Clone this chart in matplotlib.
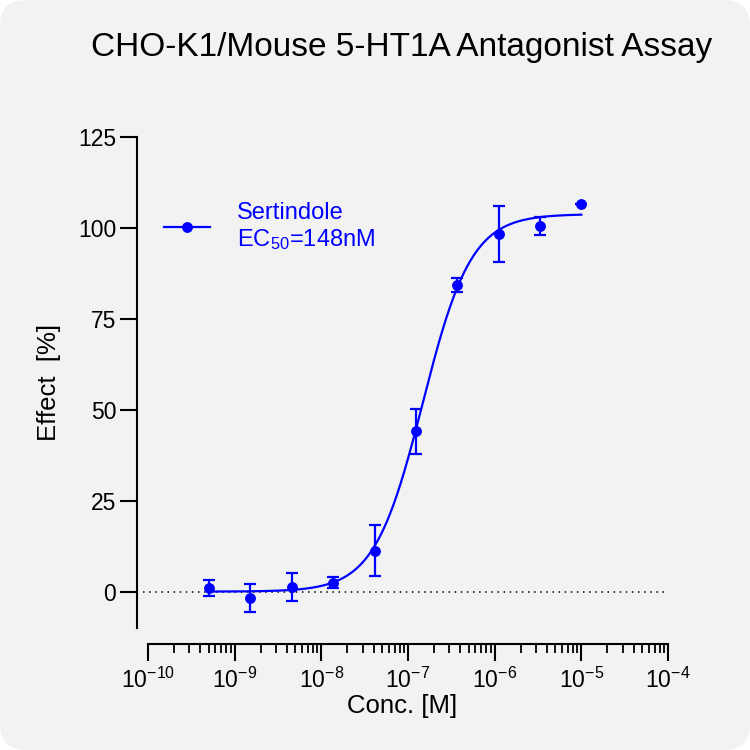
import numpy as np
import matplotlib
matplotlib.use("Agg")
import matplotlib.pyplot as plt
from matplotlib.patches import FancyBboxPatch
from matplotlib.lines import Line2D
from matplotlib.ticker import LogFormatterMathtext, FixedLocator

plt.rcParams['font.family'] = ['Liberation Sans', 'DejaVu Sans']
plt.rcParams['mathtext.fontset'] = 'custom'
plt.rcParams['mathtext.rm'] = 'Liberation Sans'
plt.rcParams['mathtext.it'] = 'Liberation Sans:italic'
plt.rcParams['mathtext.bf'] = 'Liberation Sans:bold'

# Data (3-fold dilution series)
conc = [5.08e-10, 1.52e-9, 4.57e-9, 1.37e-8, 4.12e-8,
        1.23e-7, 3.70e-7, 1.11e-6, 3.33e-6, 1.0e-5]
effect = [0.9, -1.7, 1.3, 2.5, 11.2, 44.1, 84.3, 98.3, 100.5, 106.6]
effect_sd = [2.2, 3.9, 3.9, 1.5, 7.0, 6.2, 1.8, 7.7, 2.5, 0.0]

# 4PL fit parameters
fit_bottom = 0.0
fit_top = 103.8
fit_ec50 = 148e-9
fit_hill = 1.55

title = "CHO-K1/Mouse 5-HT1A Antagonist Assay"
series_label = "Sertindole\nEC$_{50}$=148nM"
yticks = [0, 25, 50, 75, 100, 125]
xdecades = [1e-10, 1e-9, 1e-8, 1e-7, 1e-6, 1e-5, 1e-4]

BLUE = '#0000ff'

fig = plt.figure(figsize=(7.5, 7.5), dpi=100)
fig.patch.set_facecolor('white')
bg = FancyBboxPatch((0, 0), 1, 1, boxstyle="round,pad=0,rounding_size=0.035",
                    transform=fig.transFigure, facecolor='#f2f2f2',
                    edgecolor='none', zorder=-10)
fig.patches.append(bg)

ax = fig.add_axes([0.1827, 0.1627, 0.7080, 0.6546])
ax.set_facecolor('none')

# fitted curve
xs = np.logspace(np.log10(conc[0]), np.log10(conc[-1]), 400)
ys = fit_bottom + (fit_top - fit_bottom) / (1 + (fit_ec50 / xs) ** fit_hill)
ax.plot(xs, ys, color=BLUE, lw=1.6, zorder=3)

ax.errorbar(conc, effect, yerr=effect_sd, fmt='o', color=BLUE, ms=6.8,
            elinewidth=1.6, capsize=4, capthick=1.6, zorder=4)

# zero reference line
ax.axhline(0, xmin=0.011, xmax=0.994, color='black', lw=1.1,
           linestyle=(0, (1, 3)), zorder=1)

ax.set_xscale('log')
ax.set_xlim(10 ** -10.127, 1e-4)
ax.set_ylim(-10, 125)

for s in ['top', 'right']:
    ax.spines[s].set_visible(False)
ax.spines['left'].set_linewidth(1.5)
ax.spines['bottom'].set_linewidth(1.5)
ax.spines['bottom'].set_position(('outward', 11.5))
ax.spines['bottom'].set_bounds(1e-10, 1e-4)

ax.set_yticks(yticks)
ax.xaxis.set_major_locator(FixedLocator(xdecades))
ax.xaxis.set_major_formatter(LogFormatterMathtext())
minors = [d * k for d in xdecades[:-1] for k in range(2, 10)]
ax.xaxis.set_minor_locator(FixedLocator(minors))

ax.tick_params(axis='both', which='major', direction='out', length=12,
               width=1.5, labelsize=16.5, color='black')
ax.tick_params(axis='y', pad=3)
ax.tick_params(axis='x', which='major', pad=5)
ax.tick_params(axis='x', which='minor', direction='out', length=6.5, width=1.3)

ax.set_xlabel("Conc. [M]", fontsize=18.5, labelpad=1)
ax.set_ylabel("Effect  [%]", fontsize=18.5, labelpad=12)

fig.text(0.535, 0.937, title, ha='center', va='center', fontsize=24)

handle = Line2D([], [], color=BLUE, lw=1.6, marker='o', ms=6.8)
ax.legend([handle], [series_label], loc='center left',
          bbox_to_anchor=(0.051, 0.817), frameon=False, fontsize=17,
          labelcolor=BLUE, handlelength=1.95, handletextpad=1.15,
          borderpad=0, borderaxespad=0)

fig.savefig("out.png", dpi=100, facecolor='white')
